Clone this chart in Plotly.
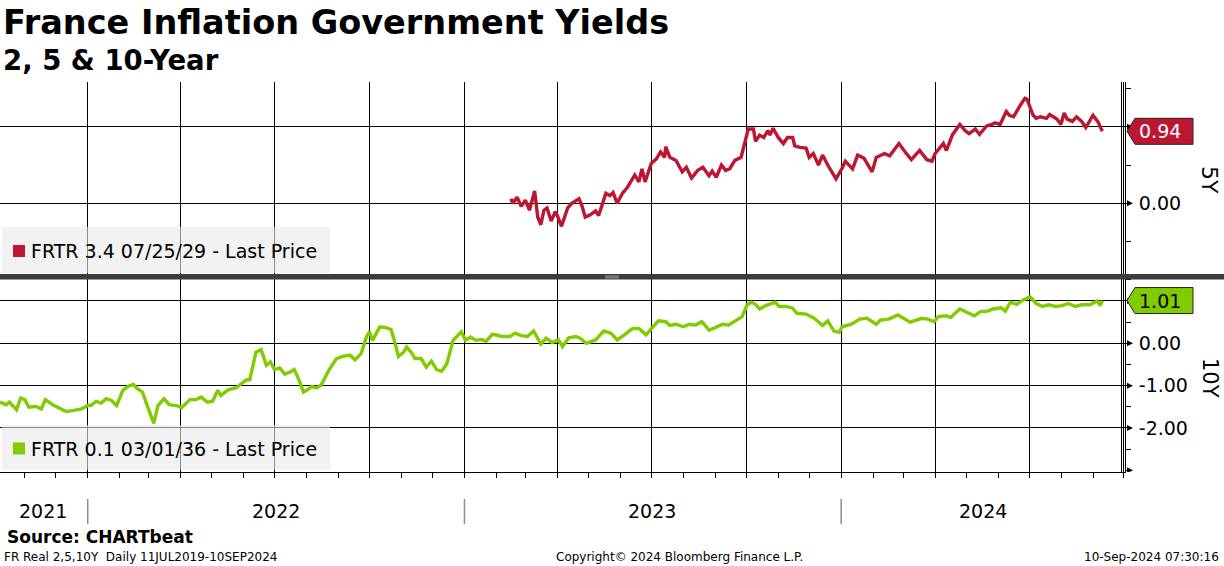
import plotly.graph_objects as go
import pandas as pd

# ---------------- text ----------------
TITLE = "France Inflation Government Yields"
SUBTITLE = "2, 5 & 10-Year"
SOURCE = "Source: CHARTbeat"
FOOT_LEFT = "FR Real 2,5,10Y \u00a0Daily 11JUL2019-10SEP2024"
FOOT_MID = "Copyright\u00a9 2024 Bloomberg Finance L.P."
FOOT_RIGHT = "10-Sep-2024 07:30:16"
RED_NAME = "FRTR 3.4 07/25/29 - Last Price"
GREEN_NAME = "FRTR 0.1 03/01/36 - Last Price"
RED_AXIS = "5Y"
GREEN_AXIS = "10Y"
YEARS = ["2021", "2022", "2023", "2024"]
X_START, X_END = "2021-10-08", "2024-10-02"

top_tick_vals = [1.0, 0.0]
top_tick_text = ["", "0.00"]
bot_tick_vals = [1.0, 0.0, -1.0, -2.0]
bot_tick_text = ["", "0.00", "-1.00", "-2.00"]

# ---------------- data: 5Y (FRTR 3.4 07/25/29) ----------------
red_dates = [
    "2023-02-15", "2023-02-17", "2023-02-21", "2023-02-25",
    "2023-03-01", "2023-03-05", "2023-03-10", "2023-03-13", "2023-03-16", "2023-03-19", "2023-03-22", "2023-03-26", "2023-03-30",
    "2023-04-01", "2023-04-05", "2023-04-11", "2023-04-15", "2023-04-22", "2023-04-25", "2023-04-28",
    "2023-05-03", "2023-05-08", "2023-05-11", "2023-05-18", "2023-05-22", "2023-05-25", "2023-05-29",
    "2023-06-03", "2023-06-08", "2023-06-15", "2023-06-19", "2023-06-22", "2023-06-25",
    "2023-07-01", "2023-07-06", "2023-07-10", "2023-07-14", "2023-07-15", "2023-07-19", "2023-07-25", "2023-07-31",
    "2023-08-04", "2023-08-09", "2023-08-15", "2023-08-20", "2023-08-26", "2023-08-29",
    "2023-09-02", "2023-09-07", "2023-09-11", "2023-09-15", "2023-09-20", "2023-09-26",
    "2023-10-01", "2023-10-03", "2023-10-08", "2023-10-10", "2023-10-14", "2023-10-18", "2023-10-22", "2023-10-24", "2023-10-27",
    "2023-11-01", "2023-11-06", "2023-11-10", "2023-11-15", "2023-11-17", "2023-11-22", "2023-11-28",
    "2023-12-01", "2023-12-05", "2023-12-10", "2023-12-14", "2023-12-19", "2023-12-27",
    "2024-01-02", "2024-01-05", "2024-01-12", "2024-01-17", "2024-01-23", "2024-01-27", "2024-01-31",
    "2024-02-04", "2024-02-12", "2024-02-17", "2024-02-22", "2024-02-26",
    "2024-03-03", "2024-03-09", "2024-03-17", "2024-03-24", "2024-03-29",
    "2024-04-01", "2024-04-06", "2024-04-09", "2024-04-12", "2024-04-18", "2024-04-25", "2024-04-30",
    "2024-05-04", "2024-05-10", "2024-05-14", "2024-05-21", "2024-05-26", "2024-05-29",
    "2024-06-03", "2024-06-09", "2024-06-12", "2024-06-16", "2024-06-22", "2024-06-27", "2024-06-29",
    "2024-07-05", "2024-07-08", "2024-07-12", "2024-07-18", "2024-07-21", "2024-07-28",
    "2024-08-01", "2024-08-04", "2024-08-07", "2024-08-12", "2024-08-16", "2024-08-21", "2024-08-25",
    "2024-09-01", "2024-09-06", "2024-09-10",
]
red_vals = [
    0.06, 0.00, 0.08, -0.04,
    0.04, -0.09, 0.16, -0.18, -0.28, -0.09, -0.06, -0.23, -0.11,
    -0.16, -0.30, -0.06, 0.00, 0.06, -0.04, -0.18,
    -0.15, -0.10, -0.16, 0.13, 0.10, 0.14, 0.00,
    0.13, 0.21, 0.37, 0.28, 0.45, 0.28,
    0.52, 0.58, 0.67, 0.60, 0.74, 0.60, 0.56, 0.41,
    0.47, 0.33, 0.43, 0.47, 0.36, 0.42,
    0.34, 0.50, 0.43, 0.45, 0.56, 0.60,
    0.84, 0.97, 0.97, 0.81, 0.89, 0.86, 0.95, 0.89, 0.98,
    0.86, 0.78, 0.86, 0.86, 0.75, 0.73, 0.72,
    0.60, 0.65, 0.50, 0.63, 0.50, 0.32,
    0.46, 0.55, 0.45, 0.63, 0.59, 0.50, 0.41,
    0.60, 0.65, 0.62, 0.71, 0.78,
    0.67, 0.57, 0.69, 0.57, 0.55,
    0.65, 0.73, 0.78, 0.69, 0.90, 1.03, 0.95,
    0.91, 0.97, 0.90, 1.01, 1.03, 1.05,
    1.03, 1.20, 1.15, 1.13, 1.27, 1.37, 1.36,
    1.15, 1.11, 1.13, 1.11, 1.16, 1.10,
    1.03, 1.18, 1.10, 1.07, 1.13, 1.07, 0.99,
    1.15, 1.06, 0.94,
]

# ---------------- data: 10Y (FRTR 0.1 03/01/36) ----------------
green_dates = [
    "2021-10-08", "2021-10-14", "2021-10-17", "2021-10-24", "2021-10-28",
    "2021-11-01", "2021-11-05", "2021-11-12", "2021-11-17", "2021-11-21", "2021-11-28",
    "2021-12-04", "2021-12-11", "2021-12-17", "2021-12-26",
    "2022-01-01", "2022-01-04", "2022-01-09", "2022-01-14", "2022-01-19", "2022-01-24", "2022-01-29",
    "2022-02-04", "2022-02-09", "2022-02-14", "2022-02-18", "2022-02-23", "2022-02-27",
    "2022-03-02", "2022-03-06", "2022-03-10", "2022-03-16", "2022-03-21", "2022-03-28",
    "2022-04-02", "2022-04-10", "2022-04-16", "2022-04-21", "2022-04-27",
    "2022-05-02", "2022-05-07", "2022-05-10", "2022-05-17", "2022-05-25", "2022-05-30",
    "2022-06-04", "2022-06-07", "2022-06-13", "2022-06-18", "2022-06-23", "2022-06-27",
    "2022-07-01", "2022-07-06", "2022-07-11", "2022-07-16", "2022-07-20", "2022-07-25", "2022-07-29",
    "2022-08-02", "2022-08-06", "2022-08-11", "2022-08-15", "2022-08-23", "2022-08-30",
    "2022-09-05", "2022-09-12", "2022-09-17", "2022-09-23", "2022-09-28",
    "2022-10-01", "2022-10-04", "2022-10-11", "2022-10-17", "2022-10-22", "2022-10-25", "2022-10-29",
    "2022-11-03", "2022-11-06", "2022-11-11", "2022-11-14", "2022-11-20", "2022-11-25", "2022-11-30",
    "2022-12-05", "2022-12-10", "2022-12-15", "2022-12-21", "2022-12-26", "2022-12-29",
    "2023-01-02", "2023-01-07", "2023-01-12", "2023-01-17", "2023-01-22", "2023-01-28",
    "2023-02-02", "2023-02-07", "2023-02-14", "2023-02-19", "2023-02-25",
    "2023-03-03", "2023-03-09", "2023-03-16", "2023-03-21", "2023-03-27",
    "2023-04-02", "2023-04-06", "2023-04-12", "2023-04-19", "2023-04-23", "2023-04-29",
    "2023-05-08", "2023-05-16", "2023-05-23", "2023-05-29",
    "2023-06-05", "2023-06-13", "2023-06-19", "2023-06-26",
    "2023-07-02", "2023-07-08", "2023-07-15", "2023-07-19", "2023-07-25",
    "2023-08-01", "2023-08-07", "2023-08-13", "2023-08-19", "2023-08-26",
    "2023-09-01", "2023-09-08", "2023-09-14", "2023-09-21", "2023-09-27",
    "2023-10-02", "2023-10-06", "2023-10-10", "2023-10-14", "2023-10-20", "2023-10-29",
    "2023-11-02", "2023-11-09", "2023-11-15", "2023-11-19", "2023-11-28",
    "2023-12-06", "2023-12-14", "2023-12-19", "2023-12-25", "2023-12-30",
    "2024-01-02", "2024-01-11", "2024-01-19", "2024-01-26",
    "2024-02-04", "2024-02-08", "2024-02-16", "2024-02-25", "2024-02-29",
    "2024-03-08", "2024-03-19", "2024-03-25", "2024-03-31",
    "2024-04-04", "2024-04-12", "2024-04-16", "2024-04-25",
    "2024-05-03", "2024-05-09", "2024-05-15", "2024-05-22", "2024-05-27",
    "2024-06-04", "2024-06-08", "2024-06-13", "2024-06-19", "2024-06-25",
    "2024-07-02", "2024-07-08", "2024-07-14", "2024-07-20", "2024-07-27",
    "2024-08-02", "2024-08-08", "2024-08-15", "2024-08-21", "2024-08-29",
    "2024-09-05", "2024-09-08", "2024-09-10",
]
green_vals = [
    -1.39, -1.45, -1.39, -1.57, -1.29,
    -1.33, -1.51, -1.49, -1.55, -1.33, -1.45,
    -1.52, -1.61, -1.59, -1.55,
    -1.47, -1.47, -1.37, -1.41, -1.31, -1.35, -1.47,
    -1.11, -1.02, -0.97, -1.07, -1.15, -1.43,
    -1.63, -1.89, -1.47, -1.31, -1.45, -1.47,
    -1.52, -1.33, -1.33, -1.27, -1.39,
    -1.37, -1.11, -1.23, -1.10, -1.05, -0.95,
    -0.86, -0.86, -0.21, -0.15, -0.52, -0.44,
    -0.62, -0.58, -0.73, -0.68, -0.62, -0.88, -1.15,
    -1.10, -1.02, -1.05, -0.99, -0.62, -0.36,
    -0.31, -0.28, -0.39, -0.24, 0.15,
    0.27, 0.07, 0.39, 0.37, 0.32, 0.07, -0.31,
    -0.21, -0.09, -0.23, -0.36, -0.36, -0.56, -0.42,
    -0.62, -0.66, -0.48, 0.07, 0.19, 0.27,
    0.07, 0.15, 0.07, 0.09, 0.05, 0.21,
    0.19, 0.16, 0.16, 0.24, 0.18,
    0.16, 0.29, -0.02, 0.12, 0.02,
    0.08, -0.08, 0.13, 0.16, 0.12, 0.00,
    0.08, 0.29, 0.24, 0.08,
    0.20, 0.35, 0.35, 0.20,
    0.37, 0.53, 0.51, 0.42, 0.45,
    0.39, 0.45, 0.43, 0.51, 0.31,
    0.37, 0.45, 0.43, 0.53, 0.63,
    0.91, 0.97, 0.92, 0.81, 0.89, 0.97,
    0.87, 0.87, 0.83, 0.71, 0.69,
    0.59, 0.42, 0.53, 0.29, 0.26,
    0.39, 0.45, 0.57, 0.59,
    0.45, 0.55, 0.57, 0.67, 0.61,
    0.50, 0.59, 0.57, 0.51,
    0.63, 0.65, 0.61, 0.81,
    0.71, 0.65, 0.75, 0.76, 0.81,
    0.84, 0.76, 0.97, 0.92, 1.02,
    1.10, 0.94, 0.87, 0.91, 0.87,
    0.89, 0.94, 0.87, 0.91, 0.91,
    1.00, 0.89, 1.01,
]

# ---------------- styling / geometry ----------------
RED = "#BD1632"
GREEN = "#80CC00"
FONT = "DejaVu Sans"

W, H = 1224, 566
ML, MR, MT, MB = 0, 99, 82, 94
PW, PH = W - ML - MR, H - MT - MB


def fx(px):
    return (px - ML) / PW


def fy(py):
    return (H - MB - py) / PH


top_dom = [fy(274), fy(82)]
bot_dom = [0.0, fy(279)]
top_range = [-0.923, 1.584]
bot_range = [-3.04, 1.519]
top_upp = (top_range[1] - top_range[0]) / ((top_dom[1] - top_dom[0]) * PH)
bot_upp = (bot_range[1] - bot_range[0]) / ((bot_dom[1] - bot_dom[0]) * PH)

fig = go.Figure()
fig.add_trace(go.Scatter(x=red_dates, y=red_vals, mode="lines", xaxis="x", yaxis="y",
                         line=dict(color=RED, width=3.4), showlegend=False, hoverinfo="skip"))
fig.add_trace(go.Scatter(x=green_dates, y=green_vals, mode="lines", xaxis="x2", yaxis="y2",
                         line=dict(color=GREEN, width=3.4), showlegend=False, hoverinfo="skip"))

xcommon = dict(range=[X_START, X_END], type="date", showgrid=True, gridcolor="black", gridwidth=1,
               tick0="2022-01-01", dtick="M3", showticklabels=False, zeroline=False)
ycommon = dict(side="right", showgrid=True, gridcolor="black", gridwidth=1, zeroline=False,
               tickmode="array", ticks="", showline=True, linecolor="black", linewidth=1,
               tickfont=dict(family=FONT, size=19, color="black"), ticklabelstandoff=9,
               minor=dict(tickmode="linear", tick0=0, dtick=0.5, ticks="outside", ticklen=5,
                          tickcolor="black", showgrid=False))

fig.update_layout(
    width=W, height=H, margin=dict(l=ML, r=MR, t=MT, b=MB),
    paper_bgcolor="white", plot_bgcolor="white", showlegend=False,
    xaxis=dict(xcommon, anchor="y", domain=[0, 1], ticks=""),
    xaxis2=dict(xcommon, anchor="y2", domain=[0, 1], matches="x", ticks="outside", ticklen=5,
                tickcolor="black", showline=True, linecolor="black", linewidth=1,
                minor=dict(tick0="2022-01-01", dtick="M1", ticks="outside", ticklen=5,
                           tickcolor="black", showgrid=False)),
    yaxis=dict(ycommon, domain=top_dom, range=top_range, tickvals=top_tick_vals,
               ticktext=top_tick_text, anchor="x"),
    yaxis2=dict(ycommon, domain=bot_dom, range=bot_range, tickvals=bot_tick_vals,
                ticktext=bot_tick_text, anchor="x2"),
)

shapes = []
ann = []

# inner right axis line (double line look)
shapes.append(dict(type="line", xref="paper", yref="paper", x0=fx(1121.5), x1=fx(1121.5),
                   y0=0, y1=1, line=dict(color="black", width=1)))

# separator bar between panels
shapes.append(dict(type="rect", xref="paper", yref="paper", x0=fx(0), x1=fx(W),
                   y0=fy(279.5), y1=fy(274), fillcolor="#3c3c3c", line=dict(width=0), layer="above"))
for gy in (276.0, 277.8):
    shapes.append(dict(type="line", xref="paper", yref="paper", x0=fx(605), x1=fx(619),
                       y0=fy(gy), y1=fy(gy), line=dict(color="#a0a0a0", width=1), layer="above"))


# tick arrows on right axes
def tick_arrows(vals, yref, upp):
    for v in vals:
        h = 3 * upp
        shapes.append(dict(type="path", xref="paper", yref=yref,
                           path=f"M {fx(1127)},{v - h} L {fx(1133)},{v} L {fx(1127)},{v + h} Z",
                           fillcolor="black", line=dict(width=0)))


tick_arrows(top_tick_vals, "y", top_upp)
tick_arrows(bot_tick_vals + [-3.0], "y2", bot_upp)


# last-value tags
def tag(v, yref, upp, fill, txtcolor):
    h = 13 * upp
    shapes.append(dict(type="path", xref="paper", yref=yref,
                       path=(f"M {fx(1127)},{v} L {fx(1135)},{v + h} L {fx(1193)},{v + h} "
                             f"L {fx(1193)},{v - h} L {fx(1135)},{v - h} Z"),
                       fillcolor=fill, line=dict(color="#222222", width=1)))
    ann.append(dict(x=fx(1137), y=v, xref="paper", yref=yref, xanchor="left", yanchor="middle",
                    text=f"{v:.2f}", showarrow=False, font=dict(family=FONT, size=19, color=txtcolor)))


tag(red_vals[-1], "y", top_upp, RED, "white")
tag(green_vals[-1], "y2", bot_upp, GREEN, "black")


# legend boxes
def legend_box(y_top, y_bot, color, name):
    shapes.append(dict(type="rect", xref="paper", yref="paper", x0=fx(2), x1=fx(330),
                       y0=fy(y_bot), y1=fy(y_top), fillcolor="rgba(234,234,234,0.6)",
                       line=dict(width=0), layer="above"))
    yc = (y_top + y_bot) / 2 + 1
    shapes.append(dict(type="rect", xref="paper", yref="paper", x0=fx(13), x1=fx(25),
                       y0=fy(yc + 6), y1=fy(yc - 6), fillcolor=color, line=dict(width=0), layer="above"))
    ann.append(dict(x=fx(29), y=fy(yc), xref="paper", yref="paper", xanchor="left", yanchor="middle",
                    text=name, showarrow=False, font=dict(family=FONT, size=19, color="black")))


legend_box(227, 273, RED, RED_NAME)
legend_box(425, 470, GREEN, GREEN_NAME)

# axis titles (rotated)
ann.append(dict(x=fx(1210), y=fy(180), xref="paper", yref="paper", text=RED_AXIS, textangle=90,
                xanchor="center", yanchor="middle",
                showarrow=False, font=dict(family=FONT, size=22, color="black")))
ann.append(dict(x=fx(1210), y=fy(378), xref="paper", yref="paper", text=GREEN_AXIS, textangle=90,
                xanchor="center", yanchor="middle",
                showarrow=False, font=dict(family=FONT, size=21, color="black")))

# year labels and separators
xs, xe = pd.Timestamp(X_START), pd.Timestamp(X_END)
for yr in YEARS:
    s = max(xs, pd.Timestamp(f"{yr}-01-01"))
    e = min(xe, pd.Timestamp(f"{yr}-12-31"))
    mid = s + (e - s) / 2
    ann.append(dict(x=mid.strftime("%Y-%m-%d"), y=fy(511), xref="x2", yref="paper", text=yr,
                    showarrow=False, xanchor="center", yanchor="middle",
                    font=dict(family=FONT, size=19, color="black")))
for yr in YEARS[1:]:
    shapes.append(dict(type="line", xref="x2", yref="paper", x0=f"{yr}-01-01", x1=f"{yr}-01-01",
                       y0=fy(524), y1=fy(499), line=dict(color="#8c8c8c", width=1.5)))

# titles and footer
ann.append(dict(x=fx(1), y=fy(22), xref="paper", yref="paper", xanchor="left", yanchor="middle",
                text=TITLE, showarrow=False,
                font=dict(family=FONT, size=33.5, color="black", weight="bold")))
ann.append(dict(x=fx(1), y=fy(60), xref="paper", yref="paper", xanchor="left", yanchor="middle",
                text=SUBTITLE, showarrow=False,
                font=dict(family=FONT, size=27.5, color="black", weight="bold")))
ann.append(dict(x=fx(5), y=fy(537), xref="paper", yref="paper", xanchor="left", yanchor="middle",
                text=SOURCE, showarrow=False,
                font=dict(family=FONT, size=17, color="black", weight="bold")))
ann.append(dict(x=fx(2), y=fy(557), xref="paper", yref="paper", xanchor="left", yanchor="middle",
                text=FOOT_LEFT, showarrow=False, font=dict(family=FONT, size=12, color="black")))
ann.append(dict(x=fx(679.5), y=fy(557), xref="paper", yref="paper", xanchor="center", yanchor="middle",
                text=FOOT_MID, showarrow=False, font=dict(family=FONT, size=12, color="black")))
ann.append(dict(x=fx(1221), y=fy(557), xref="paper", yref="paper", xanchor="right", yanchor="middle",
                text=FOOT_RIGHT, showarrow=False, font=dict(family=FONT, size=12, color="black")))

fig.update_layout(shapes=shapes, annotations=ann)
fig.write_html("out.html", config={"displayModeBar": False},
               post_script="document.body.style.margin='0px';document.body.style.overflow='hidden';")
